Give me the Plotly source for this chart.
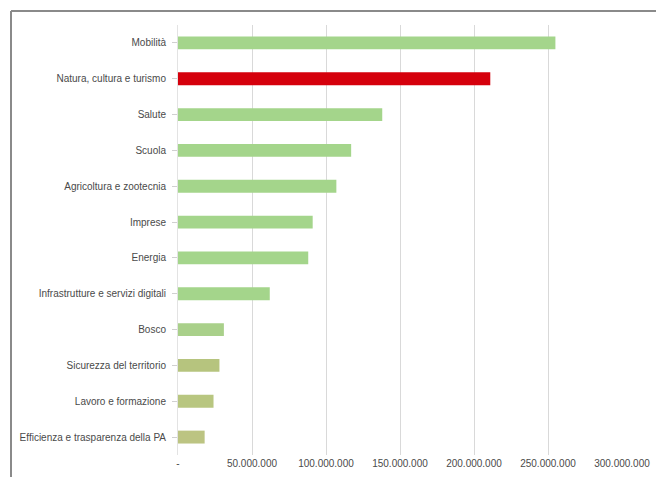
import plotly.graph_objects as go

# Allocated amounts by area (euro)
categories = [
    "Mobilità",
    "Natura, cultura e turismo",
    "Salute",
    "Scuola",
    "Agricoltura e zootecnia",
    "Imprese",
    "Energia",
    "Infrastrutture e servizi digitali",
    "Bosco",
    "Sicurezza del territorio",
    "Lavoro e formazione",
    "Efficienza e trasparenza della PA",
]
values = [
    255_000_000,
    211_000_000,
    138_000_000,
    117_000_000,
    107_000_000,
    91_000_000,
    88_000_000,
    62_000_000,
    31_000_000,
    28_000_000,
    24_000_000,
    18_000_000,
]
highlight = "Natura, cultura e turismo"

tick_values = [0, 50_000_000, 100_000_000, 150_000_000, 200_000_000, 250_000_000, 300_000_000]
tick_labels = ["-", "50.000.000", "100.000.000", "150.000.000", "200.000.000", "250.000.000", "300.000.000"]

# Bar colours: red for the highlighted area, greens shading to olive toward the bottom
palette = {
    "Bosco": "#a9d08a",
    "Sicurezza del territorio": "#b6c47e",
    "Lavoro e formazione": "#b8c680",
    "Efficienza e trasparenza della PA": "#bcc482",
}
colors = []
for c in categories:
    if c == highlight:
        colors.append("#d5000c")
    else:
        colors.append(palette.get(c, "#a4d58b"))

W, H = 656, 477
L, R, T, B = 178, 34, 25, 22

fig = go.Figure(
    go.Bar(
        x=values,
        y=categories,
        orientation="h",
        marker=dict(color=colors, line=dict(width=0)),
        width=0.36,
        hoverinfo="x+y",
    )
)

# Outer frame (top and left edges visible)
pw, ph = W - L - R, H - T - B
def px_x(p):
    return (p - L) / pw
def px_y(p):
    return (H - B - p) / ph

fig.add_shape(type="line", xref="paper", yref="paper",
              x0=px_x(11), x1=px_x(W + 5), y0=px_y(11), y1=px_y(11),
              line=dict(color="#8a8a8a", width=2))
fig.add_shape(type="line", xref="paper", yref="paper",
              x0=px_x(11), x1=px_x(11), y0=px_y(11), y1=px_y(H + 5),
              line=dict(color="#8a8a8a", width=2))

fig.update_layout(
    width=W,
    height=H,
    margin=dict(l=L, r=R, t=T, b=B),
    paper_bgcolor="white",
    plot_bgcolor="white",
    showlegend=False,
    font=dict(family="Liberation Sans, Arial, sans-serif", size=10, color="#4a4a4a"),
)
fig.update_xaxes(
    range=[0, 300_000_000],
    tickvals=tick_values,
    ticktext=tick_labels,
    showgrid=True,
    gridcolor="#d9d9d9",
    gridwidth=1,
    zeroline=False,
    showline=False,
    ticks="",
    tickfont=dict(size=10, color="#4a4a4a"),
    ticklabelstandoff=1,
    automargin=False,
)
fig.update_yaxes(
    categoryorder="array",
    categoryarray=categories,
    autorange="reversed",
    showgrid=False,
    zeroline=False,
    showline=True,
    linecolor="#e3e3e3",
    linewidth=1,
    ticks="outside",
    ticklen=5,
    tickcolor="#d0d0d0",
    tickfont=dict(size=10, color="#4a4a4a"),
    ticklabelstandoff=4,
    automargin=False,
)

fig.write_html("out.html")
